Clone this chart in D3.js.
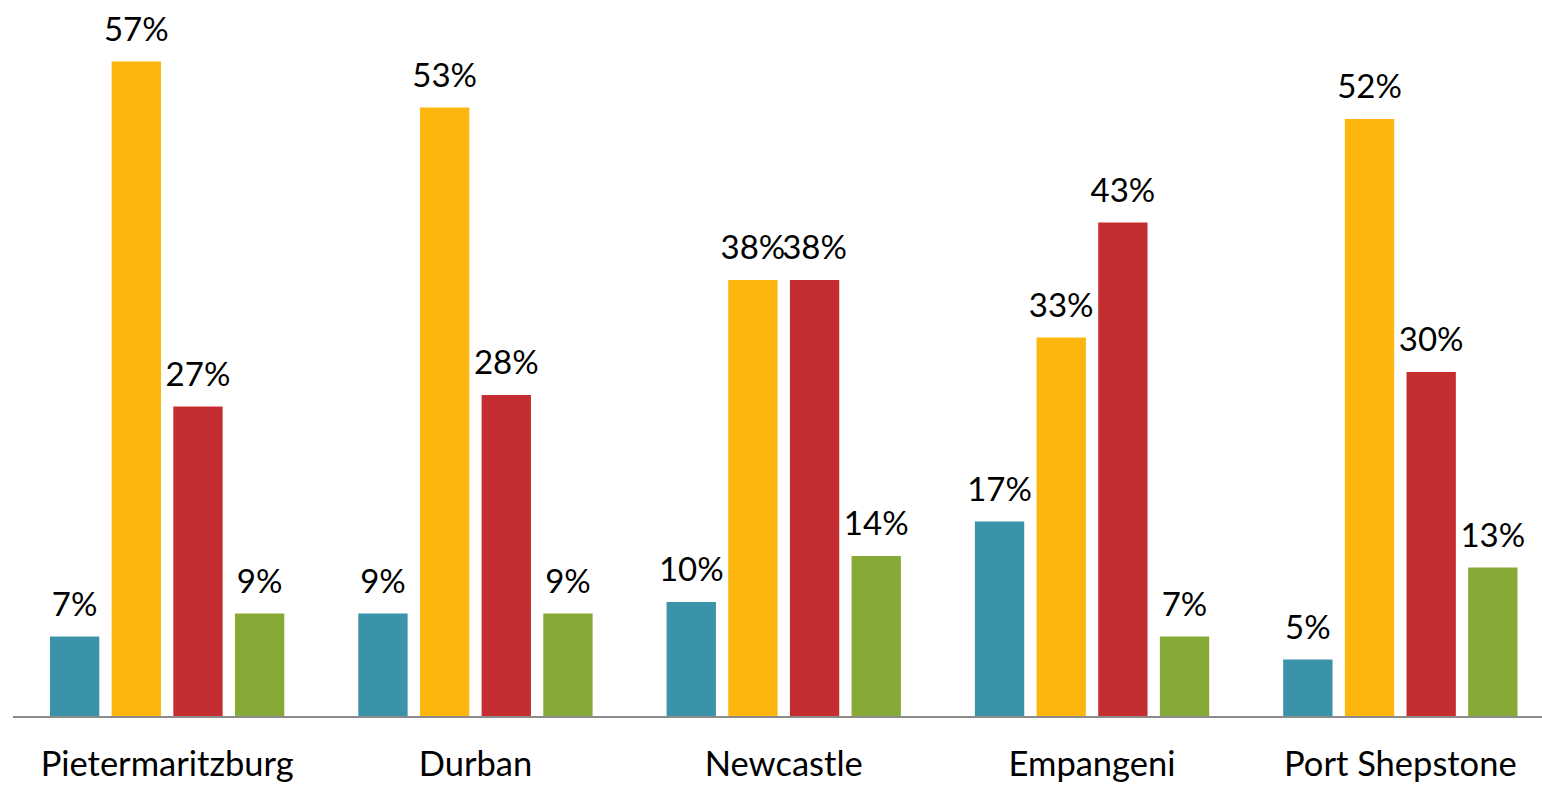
<!DOCTYPE html>
<html>
<head>
<meta charset="utf-8">
<script src="https://cdn.jsdelivr.net/npm/d3@7"></script>
<style>
  html, body { margin: 0; padding: 0; background: #fff; }
  svg { display: block; }
  text { font-family: Lato, "Open Sans", sans-serif; fill: #000; }
</style>
</head>
<body>
<svg id="chart" width="1542" height="786"></svg>
<script>
// Share of respondents per city, four response groups
const cities = ["Pietermaritzburg", "Durban", "Newcastle", "Empangeni", "Port Shepstone"];
const seriesNames = ["s1", "s2", "s3", "s4"];
const seriesColors = ["#3a93a8", "#fdb60d", "#c42e31", "#87aa37"];
const s1 = [7, 9, 10, 17, 5];
const s2 = [57, 53, 38, 33, 52];
const s3 = [27, 28, 38, 43, 30];
const s4 = [9, 9, 14, 7, 13];
const seriesValues = [s1, s2, s3, s4];

const W = 1542, H = 786;
const baseY = 717;
const svg = d3.select("#chart");

const x0 = d3.scaleBand().domain(cities).range([13, 1554.5]).paddingInner(0).paddingOuter(0);
const x1 = d3.scaleBand().domain(seriesNames).range([0, x0.bandwidth()])
  .paddingInner(0.2).paddingOuter(0.6);
const y = d3.scaleLinear().domain([0, 60]).range([baseY, baseY - 690]);

const rows = [];
cities.forEach((c, i) => {
  seriesNames.forEach((s, j) => {
    rows.push({ city: c, series: s, value: seriesValues[j][i], color: seriesColors[j] });
  });
});

const g = svg.append("g");

g.selectAll("rect.bar").data(rows).join("rect")
  .attr("class", "bar")
  .attr("x", d => x0(d.city) + x1(d.series))
  .attr("width", x1.bandwidth())
  .attr("y", d => y(d.value))
  .attr("height", d => y(0) - y(d.value))
  .attr("fill", d => d.color);

g.selectAll("text.val").data(rows).join("text")
  .attr("class", "val")
  .attr("x", d => x0(d.city) + x1(d.series) + x1.bandwidth() / 2)
  .attr("y", d => y(d.value) - 21)
  .attr("text-anchor", "middle")
  .style("font-size", "33px")
  .text(d => d.value + "%");

// baseline axis with category labels
const axis = d3.axisBottom(x0).tickSize(0).tickPadding(0);
const ax = svg.append("g").attr("transform", `translate(0,${baseY})`).call(axis);
ax.select(".domain").attr("stroke", "#8a8a8a").attr("stroke-width", 2)
  .attr("d", `M13,0H${W}`);
ax.selectAll(".tick text")
  .attr("y", 59)
  .attr("dy", 0)
  .style("font-size", "34.5px")
  .style("font-family", "Lato, 'Open Sans', sans-serif")
  .attr("fill", "#000");
</script>
</body>
</html>
